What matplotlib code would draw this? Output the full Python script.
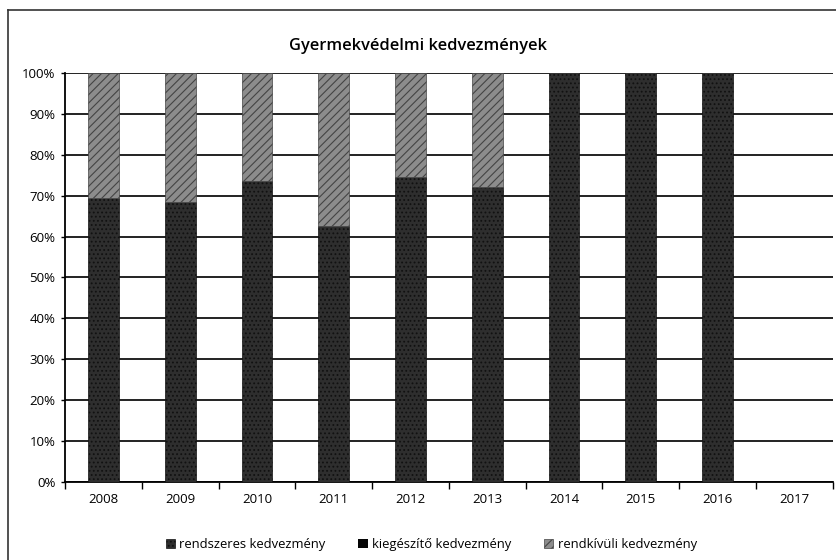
import matplotlib.pyplot as plt
import numpy as np

plt.rcParams['font.family'] = ['Open Sans', 'DejaVu Sans']
plt.rcParams['hatch.linewidth'] = 0.8

evek = ['2008', '2009', '2010', '2011', '2012', '2013', '2014', '2015', '2016', '2017']
# megoszlas szazalekban
rendszeres = [69.5, 68.5, 73.5, 62.5, 74.5, 72.0, 100, 100, 100, 0]
kiegeszito = [0, 0, 0, 0, 0, 0, 0, 0, 0, 0]
rendkivuli = [30.5, 31.5, 26.5, 37.5, 25.5, 28.0, 0, 0, 0, 0]

fig = plt.figure(figsize=(8.36, 5.6), dpi=100)
ax = fig.add_axes([0.078, 0.139, 0.918, 0.731])

x = np.arange(len(evek))
w = 0.40
r = np.array(rendszeres)
k = np.array(kiegeszito)
rk = np.array(rendkivuli)

ax.bar(x, r, w, color='#2e2e2e', edgecolor='#111111', hatch='....', linewidth=0.5,
       label='rendszeres kedvezmény', zorder=3)
ax.bar(x, k, w, bottom=r, color='#050505', linewidth=0,
       label='kiegészítő kedvezmény', zorder=3)
ax.bar(x, rk, w, bottom=r + k, color='#8c8c8c', edgecolor='#444444', hatch='////', linewidth=0.5,
       label='rendkívüli kedvezmény', zorder=3)

ax.set_xlim(-0.5, len(evek) - 0.5)
ax.set_ylim(0, 100)
ax.set_yticks(range(0, 101, 10))
ax.set_yticklabels([str(v) + '%' for v in range(0, 101, 10)], fontsize=9.5)
ax.set_xticks(x)
ax.set_xticklabels(evek, fontsize=9.5)
ax.tick_params(axis='x', length=0, pad=8)
ax.tick_params(axis='y', length=3, width=1, pad=4)
ax.set_xticks(np.arange(-0.5, len(evek), 1), minor=True)
ax.tick_params(axis='x', which='minor', length=5, width=1, direction='out')

ax.grid(axis='y', color='#111111', linewidth=1.3, zorder=0)
for s in ['top', 'right']:
    ax.spines[s].set_visible(False)
ax.spines['left'].set_linewidth(1.3)
ax.spines['bottom'].set_linewidth(1.3)

fig.text(0.5, 0.918, 'Gyermekvédelmi kedvezmények', ha='center', va='center',
         fontsize=11.8, fontweight='semibold')

ax.legend(loc='upper center', bbox_to_anchor=(0.477, -0.108), ncol=3, frameon=False,
          fontsize=9.4, handlelength=0.7, handleheight=0.7, handletextpad=0.35, columnspacing=2.5)

# keret a grafikon korul
fig.add_artist(plt.Line2D([0.010, 0.010], [0.0, 0.982], color='#333333', linewidth=1.2))
fig.add_artist(plt.Line2D([0.010, 1.0], [0.982, 0.982], color='#333333', linewidth=1.2))

fig.savefig('out.png', dpi=100)
